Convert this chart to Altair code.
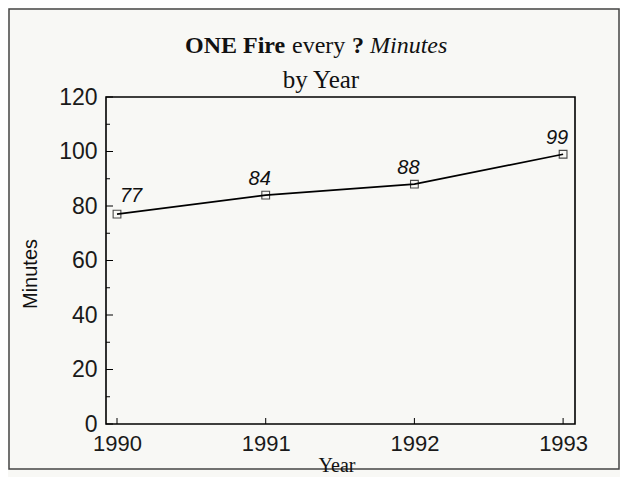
import altair as alt
import pandas as pd

years = [1990, 1991, 1992, 1993]
minutes = [77, 84, 88, 99]
x_ticks = [1990, 1991, 1992, 1993]
y_major = [0, 20, 40, 60, 80, 100, 120]
y_minor = [10, 30, 50, 70, 90, 110]

df = pd.DataFrame({"Year": years, "Minutes": minutes})
xs = alt.Scale(domain=[1989.926, 1993.08], nice=False, zero=False)
ys = alt.Scale(domain=[0, 120], nice=False)

W, H = 469, 327
SERIF = "Liberation Serif"
SANS = "Liberation Sans"

base = alt.Chart(df)

line = base.mark_line(color="black", strokeWidth=1.7).encode(
    x=alt.X("Year:Q", scale=xs,
            axis=alt.Axis(values=x_ticks, format="d", title=None, domain=False, ticks=False,
                          grid=False, labelFont=SANS, labelFontSize=22, labelColor="#1a1a1a",
                          labelPadding=9)),
    y=alt.Y("Minutes:Q", scale=ys,
            axis=alt.Axis(values=y_major, title=None, domain=False, ticks=False, grid=False,
                          labelFont=SANS, labelFontSize=23, labelColor="#1a1a1a", labelPadding=9)),
)
pts = base.mark_point(shape="square", filled=False, color="black", size=60, strokeWidth=1.1).encode(
    x=alt.X("Year:Q", scale=xs), y=alt.Y("Minutes:Q", scale=ys))

lab_first = base.transform_filter(alt.datum.Year == 1990).mark_text(
    font=SANS, fontSize=20, fontStyle="italic", dx=14, dy=-12, baseline="alphabetic", color="#111"
).encode(x=alt.X("Year:Q", scale=xs), y=alt.Y("Minutes:Q", scale=ys), text="Minutes:Q")
lab_rest = base.transform_filter(alt.datum.Year > 1990).mark_text(
    font=SANS, fontSize=20, fontStyle="italic", dx=-6, dy=-10, baseline="alphabetic", color="#111"
).encode(x=alt.X("Year:Q", scale=xs), y=alt.Y("Minutes:Q", scale=ys), text="Minutes:Q")

# inward ticks
ymaj = alt.Chart(pd.DataFrame({"v": y_major})).mark_rule(color="black", strokeWidth=1).encode(
    y=alt.Y("v:Q", scale=ys), x=alt.value(0), x2=alt.value(7))
ymin = alt.Chart(pd.DataFrame({"v": y_minor})).mark_rule(color="black", strokeWidth=1).encode(
    y=alt.Y("v:Q", scale=ys), x=alt.value(0), x2=alt.value(4))
xt = alt.Chart(pd.DataFrame({"v": x_ticks})).mark_rule(color="black", strokeWidth=1).encode(
    x=alt.X("v:Q", scale=xs), y=alt.value(H), y2=alt.value(H - 6))

one = pd.DataFrame({"a": [0]})
border = alt.Chart(one).mark_rect(fill=None, stroke="#444", strokeWidth=1.5).encode(
    x=alt.value(-97), x2=alt.value(513), y=alt.value(-88), y2=alt.value(372))

def txt(s, x, y, **kw):
    return alt.Chart(one).mark_text(baseline="alphabetic", color="#111", **kw).encode(
        x=alt.value(x), y=alt.value(y), text=alt.value(s))

t1 = txt("ONE Fire", 79, -44, align="left", font=SERIF, fontSize=24, fontWeight="bold")
t2 = txt("every", 186, -44, align="left", font=SERIF, fontSize=24)
t3 = txt("?", 246, -44, align="left", font=SERIF, fontSize=24, fontWeight="bold")
t4 = txt("Minutes", 264, -44, align="left", font=SERIF, fontSize=24, fontStyle="italic")
t5 = txt("by Year", 215, -9, align="center", font=SERIF, fontSize=25)
xtitle = txt("Year", 231, 375, align="center", font=SERIF, fontSize=20)
ytitle = alt.Chart(one).mark_text(font=SANS, fontSize=20, angle=270, align="center",
                                  baseline="middle", color="#111").encode(
    x=alt.value(-75), y=alt.value(177), text=alt.value("Minutes"))

chart = alt.layer(border, ymaj, ymin, xt, line, pts, lab_first, lab_rest,
                  t1, t2, t3, t4, t5, xtitle, ytitle).properties(
    width=W, height=H,
    autosize=alt.AutoSizeParams(type="none"),
    padding={"left": 98, "top": 89, "right": 45, "bottom": 53},
    background="#f8f8f5",
).configure_view(stroke="black", strokeWidth=1.6)

chart.save("out.html", embed_options={"renderer": "svg", "actions": False})
